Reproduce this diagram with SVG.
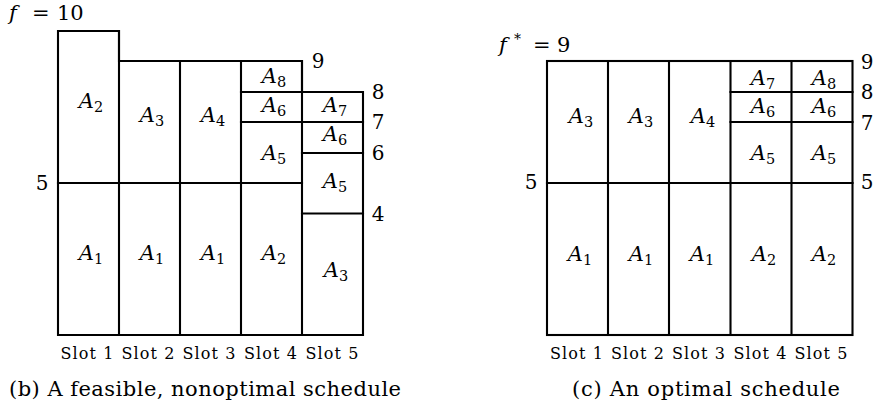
<svg xmlns="http://www.w3.org/2000/svg" width="873" height="409" viewBox="0 0 873 409">
<style>
.ln{fill:none;stroke:#000;stroke-width:2.1;stroke-linecap:square}
.a{font-style:italic;font-size:21px;text-anchor:middle}
.sub{font-style:normal;font-size:14.5px}
.num{font-size:20px;text-anchor:middle}
.slot{font-size:16px;text-anchor:middle}
.cap{font-size:21px}
.f{font-size:21px}
.D{font-family:'DejaVu Serif','Liberation Serif',serif}
</style>
<rect width="873" height="409" fill="#fff"/>

<g id="feasible" class="D" fill="#000">
  <g id="feasible-lines">
    <path class="ln" d="M58,335 V31 H119 V61 H302 V92 H363 V335 Z"/>
    <path class="ln" d="M119,31 V335 M180,61 V335 M241,61 V335 M302,61 V335"/>
    <path class="ln" d="M58,183 H302 M241,92 H302 M241,122 H363 M302,153 H363 M302,213.5 H363"/>
  </g>
  <text class="f" y="20"><tspan x="9" font-style="italic">f</tspan><tspan x="32">=</tspan><tspan x="57">10</tspan></text>
  <text class="num" x="318" y="68">9</text>
  <text class="num" x="378" y="99">8</text>
  <text class="num" x="378" y="129">7</text>
  <text class="num" x="378" y="160">6</text>
  <text class="num" x="378" y="221">4</text>
  <text class="num" x="42" y="190">5</text>
  <g id="f-cells">
    <text class="a" x="91" y="108">A<tspan class="sub" dy="4">2</tspan></text>
    <text class="a" x="152" y="122">A<tspan class="sub" dy="4">3</tspan></text>
    <text class="a" x="213" y="122">A<tspan class="sub" dy="4">4</tspan></text>
    <text class="a" x="274" y="83">A<tspan class="sub" dy="4">8</tspan></text>
    <text class="a" x="274" y="112">A<tspan class="sub" dy="4">6</tspan></text>
    <text class="a" x="274" y="160">A<tspan class="sub" dy="4">5</tspan></text>
    <text class="a" x="335" y="112">A<tspan class="sub" dy="4">7</tspan></text>
    <text class="a" x="335" y="141">A<tspan class="sub" dy="4">6</tspan></text>
    <text class="a" x="335" y="188">A<tspan class="sub" dy="4">5</tspan></text>
    <text class="a" x="91" y="260">A<tspan class="sub" dy="4">1</tspan></text>
    <text class="a" x="152" y="260">A<tspan class="sub" dy="4">1</tspan></text>
    <text class="a" x="213" y="260">A<tspan class="sub" dy="4">1</tspan></text>
    <text class="a" x="274" y="260">A<tspan class="sub" dy="4">2</tspan></text>
    <text class="a" x="336" y="277">A<tspan class="sub" dy="4">3</tspan></text>
  </g>
  <text class="slot" x="87" y="359" textLength="53">Slot 1</text>
  <text class="slot" x="148" y="359" textLength="53">Slot 2</text>
  <text class="slot" x="209" y="359" textLength="53">Slot 3</text>
  <text class="slot" x="270.5" y="359" textLength="53">Slot 4</text>
  <text class="slot" x="332" y="359" textLength="53">Slot 5</text>
  <text class="cap" x="9" y="396" textLength="392" lengthAdjust="spacing">(b) A feasible, nonoptimal schedule</text>
</g>

<g id="optimal" class="D" fill="#000">
  <g id="optimal-lines">
    <rect class="ln" x="547" y="61" width="305.5" height="274"/>
    <path class="ln" d="M608,61 V335 M669,61 V335 M730.5,61 V335 M791.5,61 V335"/>
    <path class="ln" d="M547,183 H852.5 M730.5,92 H852.5 M730.5,122 H852.5"/>
  </g>
  <text class="f" y="52"><tspan x="499" font-style="italic">f</tspan><tspan x="514" dy="-8" font-size="14">*</tspan><tspan x="533" dy="8">=</tspan><tspan x="557">9</tspan></text>
  <text class="num" x="867" y="69">9</text>
  <text class="num" x="867" y="99">8</text>
  <text class="num" x="867" y="130">7</text>
  <text class="num" x="867" y="189">5</text>
  <text class="num" x="531" y="189">5</text>
  <g id="o-cells">
    <text class="a" x="581" y="123">A<tspan class="sub" dy="4">3</tspan></text>
    <text class="a" x="641" y="123">A<tspan class="sub" dy="4">3</tspan></text>
    <text class="a" x="703" y="123">A<tspan class="sub" dy="4">4</tspan></text>
    <text class="a" x="763" y="85">A<tspan class="sub" dy="4">7</tspan></text>
    <text class="a" x="824" y="85">A<tspan class="sub" dy="4">8</tspan></text>
    <text class="a" x="763" y="113">A<tspan class="sub" dy="4">6</tspan></text>
    <text class="a" x="824" y="113">A<tspan class="sub" dy="4">6</tspan></text>
    <text class="a" x="763" y="160">A<tspan class="sub" dy="4">5</tspan></text>
    <text class="a" x="824" y="160">A<tspan class="sub" dy="4">5</tspan></text>
    <text class="a" x="580" y="261">A<tspan class="sub" dy="4">1</tspan></text>
    <text class="a" x="641" y="261">A<tspan class="sub" dy="4">1</tspan></text>
    <text class="a" x="702" y="261">A<tspan class="sub" dy="4">1</tspan></text>
    <text class="a" x="764" y="261">A<tspan class="sub" dy="4">2</tspan></text>
    <text class="a" x="824" y="261">A<tspan class="sub" dy="4">2</tspan></text>
  </g>
  <text class="slot" x="576.5" y="359" textLength="53">Slot 1</text>
  <text class="slot" x="637.5" y="359" textLength="53">Slot 2</text>
  <text class="slot" x="698.5" y="359" textLength="53">Slot 3</text>
  <text class="slot" x="760" y="359" textLength="53">Slot 4</text>
  <text class="slot" x="821" y="359" textLength="53">Slot 5</text>
  <text class="cap" x="572" y="396" textLength="268" lengthAdjust="spacing">(c) An optimal schedule</text>
</g>
</svg>
